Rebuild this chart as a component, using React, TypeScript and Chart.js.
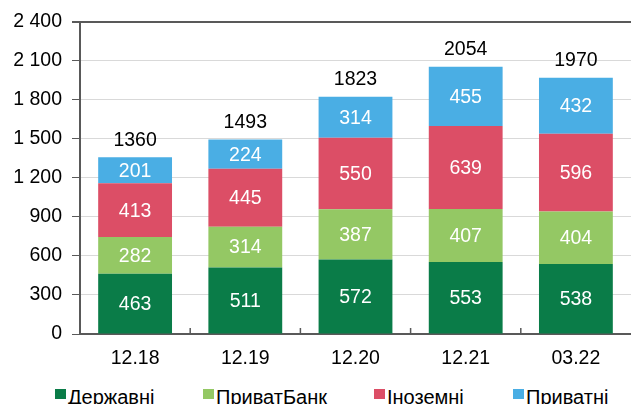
import React, { useEffect, useRef } from "react";
import { Chart, registerables } from "chart.js";

Chart.register(...registerables);

const categories = ["12.18", "12.19", "12.20", "12.21", "03.22"];
const derzhavni = [463, 511, 572, 553, 538];
const pryvatBank = [282, 314, 387, 407, 404];
const inozemni = [413, 445, 550, 639, 596];
const pryvatni = [201, 224, 314, 455, 432];
const totals = [1360, 1493, 1823, 2054, 1970];
const yTicks = [0, 300, 600, 900, 1200, 1500, 1800, 2100, 2400];

const seriesNames = ["Державні", "ПриватБанк", "Іноземні", "Приватні"];
const seriesColors = ["#0a7c48", "#94c864", "#dc4e66", "#4aaee4"];

const FONT = "'Liberation Sans', Arial, sans-serif";
const FS = 19.5;
const AXIS = "#595959";

const fmt = (v: number) => {
  const s = String(v);
  return s.length > 3 ? s.slice(0, s.length - 3) + " " + s.slice(-3) : s;
};

const labelsPlugin = {
  id: "labelsPlugin",
  afterDatasetsDraw(chart: any) {
    const ctx = chart.ctx;
    ctx.save();
    ctx.font = `${FS}px ${FONT}`;
    ctx.textAlign = "center";
    ctx.textBaseline = "middle";
    chart.data.datasets.forEach((ds: any, di: number) => {
      const meta = chart.getDatasetMeta(di);
      meta.data.forEach((el: any, i: number) => {
        ctx.fillStyle = "#ffffff";
        ctx.fillText(String(ds.data[i]), el.x, (el.y + el.base) / 2 + 1);
      });
    });
    const last = chart.getDatasetMeta(chart.data.datasets.length - 1);
    last.data.forEach((el: any, i: number) => {
      ctx.fillStyle = "#000000";
      ctx.textBaseline = "bottom";
      ctx.fillText(String(totals[i]), el.x, el.y - 7);
    });
    ctx.restore();
  },
  afterDraw(chart: any) {
    const ctx = chart.ctx;
    const xs = chart.scales.x;
    const bottom = chart.chartArea.bottom;
    ctx.save();
    ctx.strokeStyle = AXIS;
    ctx.lineWidth = 1.5;
    for (let k = 1; k < categories.length; k++) {
      const px = (xs.getPixelForValue(k - 1) + xs.getPixelForValue(k)) / 2;
      ctx.beginPath();
      ctx.moveTo(px, bottom);
      ctx.lineTo(px, bottom - 6);
      ctx.stroke();
    }
    ctx.restore();
  },
};

export default function App() {
  const ref = useRef<HTMLCanvasElement | null>(null);

  useEffect(() => {
    if (!ref.current) return;
    const data = [derzhavni, pryvatBank, inozemni, pryvatni];
    const chart = new Chart(ref.current, {
      type: "bar",
      data: {
        labels: categories,
        datasets: data.map((d, i) => ({
          label: seriesNames[i],
          data: d,
          backgroundColor: seriesColors[i],
          borderWidth: 0,
          barPercentage: 0.67,
          categoryPercentage: 1,
        })),
      },
      options: {
        animation: false,
        responsive: false,
        maintainAspectRatio: false,
        layout: { padding: { top: 20, right: 0, bottom: 0, left: 0 } },
        plugins: {
          legend: { display: false },
          tooltip: { enabled: false },
        },
        scales: {
          x: {
            stacked: true,
            afterFit: (s: any) => {
              s.height = 36;
            },
            grid: { display: false, drawTicks: false },
            border: { display: true, color: AXIS, width: 2 },
            ticks: {
              color: "#000",
              padding: 13,
              font: { family: FONT, size: FS },
            },
          },
          y: {
            stacked: true,
            min: 0,
            max: 2400,
            afterFit: (s: any) => {
              s.width = 80;
            },
            afterBuildTicks: (s: any) => {
              s.ticks = yTicks.map((v) => ({ value: v }));
            },
            grid: {
              color: (c: any) => (c.tick && c.tick.value === 2400 ? AXIS : "#d9d9d9"),
              lineWidth: (c: any) => (c.tick && c.tick.value === 2400 ? 2 : 1),
              tickColor: AXIS,
              tickLength: 8,
              drawTicks: true,
            },
            border: { display: true, color: AXIS, width: 2 },
            ticks: {
              color: "#000",
              padding: 10,
              font: { family: FONT, size: FS },
              callback: (v: any) => fmt(Number(v)),
            },
          },
        },
      },
      plugins: [labelsPlugin],
    });
    return () => chart.destroy();
  }, []);

  const legendLefts = [55, 203, 374, 513];

  return (
    <div
      style={{
        position: "fixed",
        left: 0,
        top: 0,
        width: 631,
        height: 404,
        background: "#fff",
        overflow: "hidden",
        fontFamily: FONT,
      }}
    >
      <canvas ref={ref} width={631} height={370} style={{ display: "block" }} />
      {seriesNames.map((n, i) => (
        <div
          key={n}
          style={{
            position: "absolute",
            left: legendLefts[i],
            top: 386,
            height: 22,
            fontSize: 20,
            lineHeight: "22px",
            color: "#000",
            whiteSpace: "nowrap",
          }}
        >
          <span
            style={{
              position: "absolute",
              left: 0,
              top: 3,
              width: 11,
              height: 10,
              background: seriesColors[i],
            }}
          />
          <span style={{ display: "inline-block", marginLeft: 13 }}>{n}</span>
        </div>
      ))}
    </div>
  );
}
